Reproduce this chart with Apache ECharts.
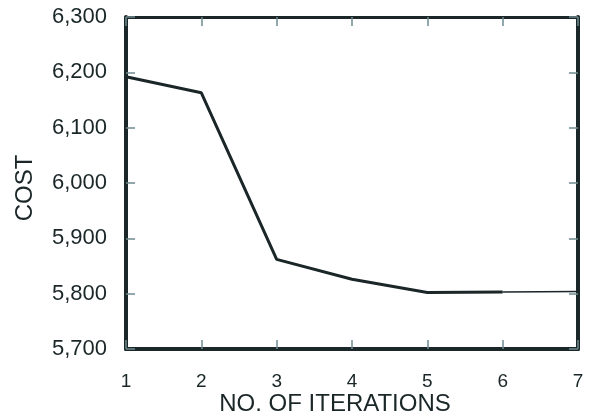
<!DOCTYPE html>
<html>
<head>
<meta charset="utf-8">
<script src="https://cdn.jsdelivr.net/npm/echarts@6/dist/echarts.min.js"></script>
<style>html,body{margin:0;padding:0;background:#fff;}#c{width:590px;height:418px;}</style>
</head>
<body>
<div id="c"></div>
<script>
// Data
var iterations = [1, 2, 3, 4, 5, 6];
var costs = [6192, 6163, 5862, 5826, 5802, 5803];
var tailIterations = [6, 7];
var tailCosts = [5803, 5804];
var xTicks = [1, 2, 3, 4, 5, 6, 7];
var yTicks = [5700, 5800, 5900, 6000, 6100, 6200, 6300];

var ink = '#1a2627';
var tickColor = '#6e8a90';

function pairs(xs, ys) { return xs.map(function (x, i) { return [x, ys[i]]; }); }
function fmt(v) { return String(v).replace(/\B(?=(\d{3})+(?!\d))/g, ','); }

var chart = echarts.init(document.getElementById('c'), null, { renderer: 'canvas' });
var font = 'Liberation Sans, Arial, Helvetica, sans-serif';
chart.setOption({
  animation: false,
  backgroundColor: '#ffffff',
  grid: { left: 126, right: 12, top: 17, bottom: 69, containLabel: false, outerBoundsMode: 'none' },
  xAxis: [{
    type: 'value', min: xTicks[0], max: xTicks[xTicks.length - 1], interval: 1,
    name: 'NO. OF ITERATIONS', nameLocation: 'middle', nameGap: 43, nameMoveOverlap: false,
    nameTextStyle: { color: ink, fontSize: 24, fontFamily: font, padding: [0, 34, 0, 0] },
    axisLine: { show: true, lineStyle: { color: ink, width: 4 } },
    axisTick: { show: true, inside: true, length: 9, lineStyle: { color: tickColor, width: 1.5 } },
    axisLabel: { color: ink, fontSize: 19, fontFamily: font, margin: 23 },
    splitLine: { show: false }
  }, {
    type: 'value', position: 'top', min: xTicks[0], max: xTicks[xTicks.length - 1], interval: 1,
    axisLine: { show: true, lineStyle: { color: ink, width: 3 } },
    axisTick: { show: true, inside: true, length: 9, lineStyle: { color: tickColor, width: 1.5 } },
    axisLabel: { show: false }, splitLine: { show: false }
  }],
  yAxis: [{
    type: 'value', min: yTicks[0], max: yTicks[yTicks.length - 1], interval: 100,
    name: 'COST', nameLocation: 'middle', nameGap: 89, nameRotate: 90, nameMoveOverlap: false,
    nameTextStyle: { color: ink, fontSize: 24, fontFamily: font, padding: [0, 10, 0, 0] },
    axisLine: { show: true, lineStyle: { color: ink, width: 4 } },
    axisTick: { show: true, inside: true, length: 9, lineStyle: { color: tickColor, width: 1.5 } },
    axisLabel: { color: ink, fontSize: 22, fontFamily: font, margin: 19, formatter: fmt },
    splitLine: { show: false }
  }, {
    type: 'value', position: 'right', min: yTicks[0], max: yTicks[yTicks.length - 1], interval: 100,
    axisLine: { show: true, lineStyle: { color: ink, width: 4 } },
    axisTick: { show: true, inside: true, length: 9, lineStyle: { color: tickColor, width: 1.5 } },
    axisLabel: { show: false }, splitLine: { show: false }
  }],
  series: [{
    type: 'line', data: pairs(iterations, costs), showSymbol: false, symbol: 'none',
    lineStyle: { color: ink, width: 3 }, z: 3
  }, {
    type: 'line', data: pairs(tailIterations, tailCosts), showSymbol: false, symbol: 'none',
    lineStyle: { color: ink, width: 1.5 }, z: 3
  }]
});
</script>
</body>
</html>
